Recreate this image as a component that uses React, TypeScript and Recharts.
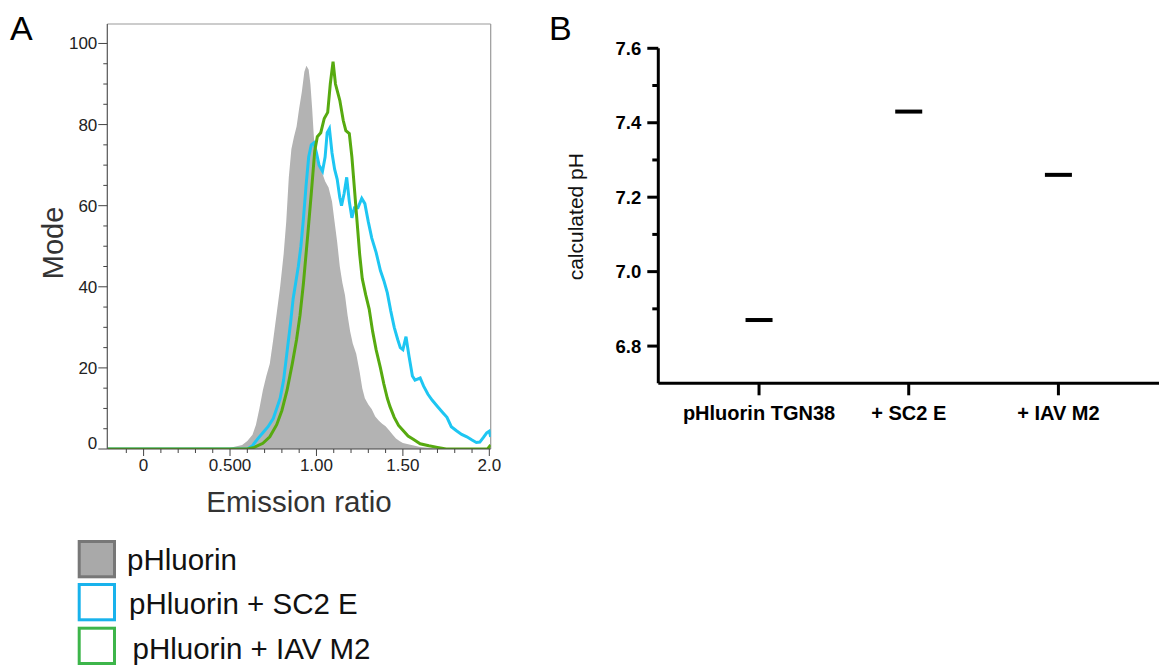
import React from "react"
import {
  ComposedChart,
  Area,
  Line,
  Scatter,
  XAxis,
  YAxis,
  ReferenceLine,
  Label,
} from "recharts"

const FONT = '"Liberation Sans", Arial, Helvetica, sans-serif'

// ---- Panel A: emission ratio histograms (x = ratio, y = mode) ----
const pHluorinCurve: [number, number][] = [
  [-0.21, 0], [0.48, 0], [0.52, 0.5], [0.57, 1], [0.6, 2], [0.63, 3.5], [0.65, 6],
  [0.67, 10], [0.69, 14.5], [0.71, 18], [0.73, 21], [0.75, 27], [0.77, 33.5],
  [0.79, 40], [0.81, 48], [0.825, 56], [0.84, 67], [0.855, 74], [0.87, 77],
  [0.885, 79.5], [0.9, 84], [0.915, 88], [0.93, 93], [0.942, 94.5], [0.955, 93.5],
  [0.965, 90], [0.975, 84], [0.985, 77], [0.995, 72], [1.01, 70.5], [1.03, 68.5],
  [1.05, 66], [1.07, 64.5], [1.09, 61], [1.105, 56], [1.12, 51], [1.135, 45],
  [1.15, 41], [1.165, 38], [1.18, 33], [1.195, 29], [1.21, 26], [1.23, 23.5],
  [1.25, 19], [1.265, 15], [1.28, 12.5], [1.3, 11], [1.32, 9.8], [1.34, 8],
  [1.36, 7], [1.38, 6.2], [1.4, 5.6], [1.42, 4.6], [1.44, 3.6], [1.46, 2.6],
  [1.48, 2], [1.5, 1.5], [1.55, 1], [1.6, 0.5], [1.68, 0.2], [1.75, 0], [2.008, 0],
]

const sc2eCurve: [number, number][] = [
  [-0.21, 0], [0.6, 0], [0.63, 0.8], [0.66, 2.5], [0.69, 4], [0.72, 5.5], [0.75, 7.5],
  [0.77, 10], [0.79, 12.5], [0.81, 17], [0.83, 24], [0.85, 31], [0.865, 37],
  [0.88, 41], [0.895, 45], [0.91, 50], [0.925, 57], [0.94, 65], [0.955, 72],
  [0.97, 75], [0.985, 75.5], [1.0, 73], [1.015, 70], [1.035, 68.5], [1.05, 72],
  [1.062, 78], [1.075, 79], [1.09, 73], [1.105, 69], [1.12, 66.5], [1.135, 62],
  [1.145, 60], [1.16, 63], [1.175, 67], [1.19, 61], [1.205, 57], [1.22, 59.5],
  [1.24, 59.5], [1.262, 61.8], [1.28, 60.5], [1.3, 56], [1.32, 52], [1.345, 48.5],
  [1.37, 44], [1.39, 41.5], [1.41, 38.5], [1.43, 34], [1.45, 30], [1.47, 27],
  [1.485, 25], [1.5, 24.5], [1.518, 27.7], [1.535, 23], [1.555, 18], [1.57, 17],
  [1.6, 17.5], [1.62, 15.5], [1.645, 13.5], [1.67, 12], [1.7, 10.5], [1.73, 9],
  [1.755, 7.8], [1.78, 5.5], [1.81, 4.5], [1.84, 3.6], [1.87, 3], [1.9, 2.2],
  [1.925, 1.6], [1.945, 1.7], [1.965, 2.8], [1.985, 4], [2.0, 4.4], [2.008, 3],
]

const iavM2Curve: [number, number][] = [
  [-0.21, 0], [0.6, 0], [0.64, 0.4], [0.69, 1.4], [0.73, 3], [0.77, 6], [0.8, 9.5],
  [0.83, 14.5], [0.86, 21], [0.885, 27], [0.905, 33], [0.925, 41], [0.95, 53],
  [0.97, 63], [0.99, 73.5], [1.005, 77], [1.025, 78], [1.045, 81.5], [1.065, 83],
  [1.08, 90], [1.096, 95.5], [1.11, 90], [1.135, 86], [1.155, 81], [1.17, 78.5],
  [1.19, 77.8], [1.205, 72], [1.22, 64], [1.235, 56], [1.25, 48], [1.265, 42],
  [1.285, 38], [1.305, 34.5], [1.325, 29], [1.345, 24.5], [1.37, 20], [1.39, 16],
  [1.41, 12.5], [1.425, 10.5], [1.45, 7.8], [1.475, 5.8], [1.5, 4.6], [1.53, 3.2],
  [1.56, 2.4], [1.6, 1.3], [1.65, 0.8], [1.7, 0.4], [1.75, 0], [1.99, 0], [2.008, 1],
]

const ratioTicks = [
  -0.1, 0, 0.1, 0.2, 0.3, 0.4, 0.5, 0.6, 0.7, 0.8, 0.9, 1.0, 1.1, 1.2, 1.3, 1.4,
  1.5, 1.6, 1.7, 1.8, 1.9, 2.0,
]
const ratioMajorTicks = [0, 0.5, 1, 1.5, 2]
const ratioTickLabels = ["0", "0.500", "1.00", "1.50", "2.0"]

const modeTicks = [0, 5, 10, 15, 20, 25, 30, 35, 40, 45, 50, 55, 60, 65, 70, 75, 80, 85, 90, 95, 100]
const modeMajorTicks = [0, 20, 40, 60, 80, 100]

const RATIO_MIN = -0.21
const RATIO_MAX = 2.008
const MODE_MAX = 104.8

const legendNames = ["pHluorin", "pHluorin + SC2 E", "pHluorin + IAV M2"]

// ---- Panel B: calculated pH ----
const groups = ["pHluorin TGN38", "+ SC2 E", "+ IAV M2"]
const calculatedPh = [6.87, 7.43, 7.26]
const phTicks = [6.8, 6.9, 7.0, 7.1, 7.2, 7.3, 7.4, 7.5, 7.6]
const phMajorTicks = [6.8, 7.0, 7.2, 7.4, 7.6]
const phTickLabels = ["6.8", "7.0", "7.2", "7.4", "7.6"]

const GRAY_FILL = "#b3b3b3"
const SC2_COLOR = "#1ec6f2"
const IAV_COLOR = "#57aa10"

const near = (a: number, b: number) => Math.abs(a - b) < 1e-6
const toPoints = (pts: [number, number][]) => pts.map(([x, y]) => ({ x, y }))

function RatioTick({ x, y, payload }: any) {
  const idx = ratioMajorTicks.findIndex((t) => near(t, payload.value))
  const major = idx >= 0
  return (
    <g>
      <line x1={x} x2={x} y1={y} y2={y + (major ? 7 : 4)} stroke="#444" strokeWidth={1} />
      {major && (
        <text x={x} y={y + 21.5} textAnchor="middle" fontSize={17} fontFamily={FONT} fill="#222">
          {ratioTickLabels[idx]}
        </text>
      )}
    </g>
  )
}

function ModeTick({ x, y, payload }: any) {
  const major = modeMajorTicks.some((t) => near(t, payload.value))
  return (
    <g>
      <line x1={x - (major ? 9 : 4)} x2={x} y1={y} y2={y} stroke="#444" strokeWidth={1} />
      {major && (
        <text
          x={x - 10}
          y={payload.value === 0 ? y - 6 : y}
          dy={6}
          textAnchor="end"
          fontSize={17}
          fontFamily={FONT}
          fill="#222"
        >
          {payload.value}
        </text>
      )}
    </g>
  )
}

function PhTick({ x, y, payload }: any) {
  const idx = phMajorTicks.findIndex((t) => near(t, payload.value))
  const major = idx >= 0
  return (
    <g>
      <line x1={x - (major ? 11 : 6)} x2={x} y1={y} y2={y} stroke="#000" strokeWidth={3} />
      {major && (
        <text x={x - 17} y={y} dy={6.5} textAnchor="end" fontSize={18.5} fontWeight="bold" fontFamily={FONT} fill="#000">
          {phTickLabels[idx]}
        </text>
      )}
    </g>
  )
}

function GroupTick({ x, y, payload }: any) {
  return (
    <g>
      <line x1={x} x2={x} y1={y} y2={y + 12} stroke="#000" strokeWidth={3} />
      <text x={x} y={y + 37} textAnchor="middle" fontSize={20} fontWeight="bold" fontFamily={FONT} fill="#000">
        {groups[payload.value]}
      </text>
    </g>
  )
}

function MeanMark({ cx, cy }: any) {
  return <rect x={cx - 13.5} y={cy - 2} width={27} height={4} fill="#000" />
}

function HistogramPanel() {
  return (
    <ComposedChart width={520} height={520} margin={{ top: 24, right: 29.3, left: 47.3, bottom: 8 }}>
      <XAxis
        type="number"
        dataKey="x"
        domain={[RATIO_MIN, RATIO_MAX]}
        allowDataOverflow
        ticks={ratioTicks}
        interval={0}
        tick={<RatioTick />}
        tickLine={false}
        tickSize={0}
        tickMargin={0}
        height={63}
        axisLine={{ stroke: "#444", strokeWidth: 1.2 }}
      >
        <Label value="Emission ratio" position="insideBottom" offset={0} fontSize={29.5} fontFamily={FONT} fill="#333" />
      </XAxis>
      <YAxis
        type="number"
        domain={[0, MODE_MAX]}
        allowDataOverflow
        ticks={modeTicks}
        interval={0}
        tick={<ModeTick />}
        tickLine={false}
        tickSize={0}
        tickMargin={0}
        width={60}
        axisLine={{ stroke: "#555", strokeWidth: 1.2 }}
      >
        <Label
          content={() => (
            <text x={63} y={243} transform="rotate(-90 63 243)" textAnchor="middle" fontSize={29} fontFamily={FONT} fill="#333">
              Mode
            </text>
          )}
        />
      </YAxis>
      <ReferenceLine y={MODE_MAX} stroke="#9a9a9a" strokeWidth={1.2} />
      <ReferenceLine x={RATIO_MAX} stroke="#9a9a9a" strokeWidth={1.2} />
      <Area
        data={toPoints(pHluorinCurve)}
        dataKey="y"
        type="linear"
        stroke="none"
        fill={GRAY_FILL}
        fillOpacity={1}
        baseValue={0}
        isAnimationActive={false}
        dot={false}
        activeDot={false}
      />
      <Line
        data={toPoints(sc2eCurve)}
        dataKey="y"
        type="linear"
        stroke={SC2_COLOR}
        strokeWidth={3}
        dot={false}
        activeDot={false}
        isAnimationActive={false}
      />
      <Line
        data={toPoints(iavM2Curve)}
        dataKey="y"
        type="linear"
        stroke={IAV_COLOR}
        strokeWidth={3}
        dot={false}
        activeDot={false}
        isAnimationActive={false}
      />
    </ComposedChart>
  )
}

function PhPanel() {
  const data = groups.map((g, i) => ({ pos: i, name: g, ph: calculatedPh[i] }))
  return (
    <ComposedChart width={619} height={440} margin={{ top: 48.3, right: 0, left: 58.3, bottom: 0 }}>
      <XAxis
        type="number"
        dataKey="pos"
        domain={[-0.673, 2.672]}
        allowDataOverflow
        ticks={[0, 1, 2]}
        interval={0}
        tick={<GroupTick />}
        tickLine={false}
        tickSize={0}
        tickMargin={0}
        height={56.7}
        axisLine={{ stroke: "#000", strokeWidth: 3 }}
      />
      <YAxis
        type="number"
        dataKey="ph"
        domain={[6.7, 7.6]}
        allowDataOverflow
        ticks={phTicks}
        interval={0}
        tick={<PhTick />}
        tickLine={false}
        tickSize={0}
        tickMargin={0}
        width={60}
        axisLine={{ stroke: "#000", strokeWidth: 3 }}
      >
        <Label
          content={() => (
            <text x={43} y={216.7} transform="rotate(-90 43 216.7)" textAnchor="middle" fontSize={21} fontFamily={FONT} fill="#111">
              calculated pH
            </text>
          )}
        />
      </YAxis>
      <Scatter data={data} dataKey="ph" shape={<MeanMark />} isAnimationActive={false} />
    </ComposedChart>
  )
}

function LegendA() {
  const boxes = [
    { stroke: "#777777", fill: "#a9a9a9", top: 540, textX: 127, base: 569.5 },
    { stroke: "#18b2ec", fill: "#ffffff", top: 583, textX: 129, base: 613.5 },
    { stroke: "#3db54a", fill: "#ffffff", top: 626.7, textX: 132.5, base: 659 },
  ]
  return (
    <g>
      {boxes.map((b, i) => (
        <g key={legendNames[i]}>
          <rect x={79.2} y={b.top + 1.5} width={35.3} height={35.3} fill={b.fill} stroke={b.stroke} strokeWidth={3} />
          <text x={b.textX} y={b.base} fontSize={29.5} fontFamily={FONT} fill="#111">
            {legendNames[i]}
          </text>
        </g>
      ))}
    </g>
  )
}

export default function App() {
  return (
    <div style={{ position: "absolute", left: 0, top: 0, width: 1159, height: 671, background: "#fff", fontFamily: FONT }}>
      <div style={{ position: "absolute", left: 0, top: 0 }}>
        <HistogramPanel />
      </div>
      <div style={{ position: "absolute", left: 540, top: 0 }}>
        <PhPanel />
      </div>
      <svg width={1159} height={671} style={{ position: "absolute", left: 0, top: 0, pointerEvents: "none" }}>
        <text x={10} y={40} fontSize={34} fontFamily={FONT} fill="#000">A</text>
        <text x={549} y={40} fontSize={34} fontFamily={FONT} fill="#000">B</text>
        <LegendA />
      </svg>
    </div>
  )
}
